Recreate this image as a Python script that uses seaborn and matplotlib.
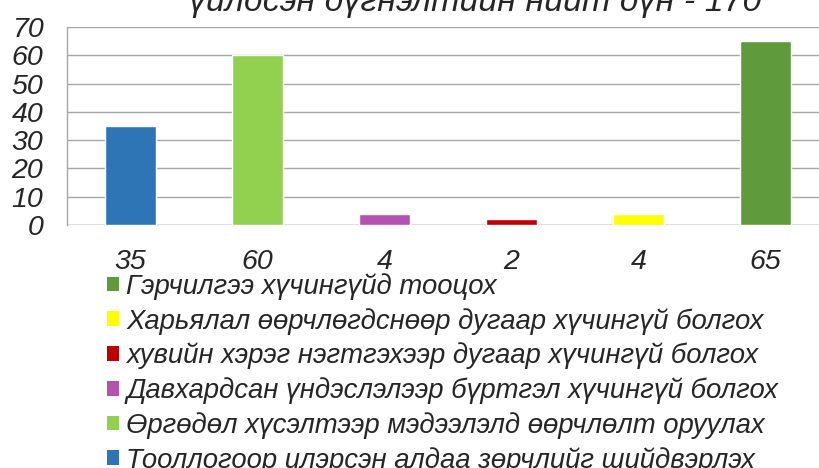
import matplotlib
matplotlib.use("Agg")
import matplotlib.pyplot as plt
from matplotlib.patches import Patch
import seaborn as sns
import numpy as np

# Data
categories = [
    "Тооллогоор илэрсэн алдаа зөрчлийг шийдвэрлэх",
    "Өргөдөл хүсэлтээр мэдээлэлд өөрчлөлт оруулах",
    "Давхардсан үндэслэлээр бүртгэл хүчингүй болгох",
    "хувийн хэрэг нэгтгэхээр дугаар хүчингүй болгох",
    "Харьялал өөрчлөгдснөөр дугаар хүчингүй болгох",
    "Гэрчилгээ хүчингүйд тооцох",
]
values = [35, 60, 4, 2, 4, 65]
tick_labels = ["35", "60", "4", "2", "4", "65"]
colors = ["#2E75B6", "#92D050", "#B452B0", "#C00000", "#FFFF00", "#5F9B3D"]
title = "үйлдсэн дүгнэлтийн нийт дүн - 170"

sns.set_style("white")
plt.rcParams["font.family"] = ["Liberation Sans", "DejaVu Sans"]

fig = plt.figure(figsize=(8.2, 4.68), dpi=100)
ax = fig.add_axes([67 / 820, 1 - 225 / 468, 762 / 820, 198 / 468])

sns.barplot(x=categories, y=values, hue=categories, palette=colors,
            width=0.4, legend=False, saturation=1, ax=ax)

ax.set_xlim(-0.5, 5.5)
ax.set_ylim(0, 70)
ax.set_yticks(range(0, 71, 10))
ax.yaxis.grid(True, color="#a6a6a6", linewidth=1)
ax.set_axisbelow(True)

for s in ["top", "right", "bottom"]:
    ax.spines[s].set_visible(False)
ax.spines["left"].set_color("#a6a6a6")
ax.spines["left"].set_linewidth(1)
ax.axhline(0, color="#a6a6a6", linewidth=1, zorder=0)

ax.set_xticks(range(len(categories)))
ax.set_xticklabels(tick_labels, fontsize=20.5, style="italic")
ax.set_xticks(np.arange(-0.5, 6, 1), minor=True)
ax.tick_params(axis="x", which="major", length=0, pad=17)
ax.tick_params(axis="x", which="minor", length=8, color="#a6a6a6", width=1)
ax.tick_params(axis="y", length=9, color="#a6a6a6", width=1, pad=8,
               labelsize=20.5)
for t in ax.get_yticklabels():
    t.set_style("italic")
ax.set_xlabel("")
ax.set_ylabel("")

fig.text(475 / 820, 1 - 11 / 468, title, ha="center", va="baseline",
         fontsize=24.5, style="italic")

handles = [Patch(facecolor=c, edgecolor="none") for c in colors][::-1]
labels = categories[::-1]
fig.legend(handles, labels, loc="upper left",
           bbox_to_anchor=(107 / 820, 1 - 273 / 468), frameon=False,
           prop={"size": 19.8, "style": "italic"}, handlelength=0.45,
           handleheight=0.45, handletextpad=0.25, labelspacing=0.29,
           borderpad=0, borderaxespad=0)

fig.savefig("out.png", dpi=100)
